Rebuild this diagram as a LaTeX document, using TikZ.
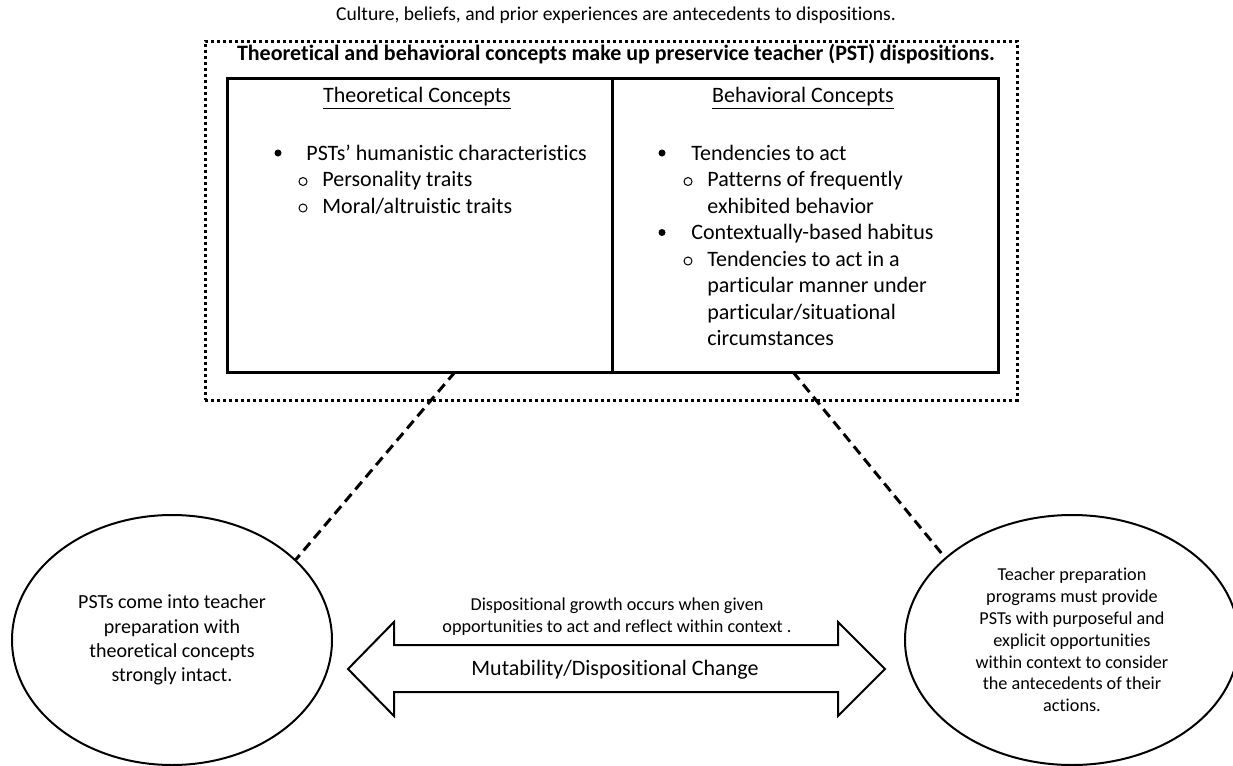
\documentclass[tikz,border=0pt]{standalone}
\usepackage{fontspec}
\setmainfont{Carlito}[Ligatures=NoCommon]
\usetikzlibrary{shapes.geometric,fit}

\tikzset{
  outerbox/.style={draw, line width=1.5pt, dash pattern=on 1.5pt off 1.5pt, inner sep=0pt},
  conceptbox/.style={draw, line width=1.5pt, inner sep=0pt},
  linkline/.style={line width=1.5pt, dash pattern=on 5pt off 3pt},
  bubble/.style={draw, ellipse, line width=1pt, inner sep=0pt, align=center},
  listline/.style={anchor=base west, inner sep=0pt, font=\fontsize{11}{13}\selectfont},
  headline/.style={anchor=base, inner sep=0pt, font=\fontsize{11}{13}\selectfont},
  bigarrow/.style={draw, line width=1pt, line join=miter},
}

\begin{document}
\begin{tikzpicture}[x=0.5pt, y=-0.5pt]
\useasboundingbox (0,0) rectangle (1233,766);

% Antecedenti
\node[anchor=base, inner sep=0pt, font=\fontsize{9.8}{12}\selectfont] (culture) at (616,20)
  {Culture, beliefs, and prior experiences are antecedents to dispositions.};

% Riquadro punteggiato e tabella
\node[outerbox, fit={(205,41) (1017,400)}] (outer) {};
\node[anchor=base, inner sep=0pt, font=\fontsize{11}{13}\selectfont\bfseries] (title) at (616,60)
  {Theoretical and behavioral concepts make up preservice teacher (PST) dispositions.};
\node[conceptbox, fit={(227,78) (612,372)}] (theo) {};
\node[conceptbox, fit={(612,78) (998,372)}] (behav) {};

% Intestazioni
\node[headline] (theohead) at (417,102) {\underline{Theoretical Concepts}};
\node[headline] (behavhead) at (803,102) {\underline{Behavioral Concepts}};

% Concetti teorici
\fill (278,153) circle (3.5);
\node[listline] (t1) at (306,160) {PSTs’ humanistic characteristics};
\draw[line width=0.5pt] (303,181.5) circle (4);
\node[listline] (t2) at (322,186.5) {Personality traits};
\draw[line width=0.5pt] (303,208) circle (4);
\node[listline] (t3) at (322,213) {Moral/altruistic traits};

% Concetti comportamentali
\fill (662,153) circle (3.5);
\node[listline] (b1) at (691,160) {Tendencies to act};
\draw[line width=0.5pt] (688,181.5) circle (4);
\node[listline] (b2) at (707,186.5) {Patterns of frequently};
\node[listline] (b3) at (707,213) {exhibited behavior};
\fill (662,232.5) circle (3.5);
\node[listline] (b4) at (691,239.5) {Contextually-based habitus};
\draw[line width=0.5pt] (688,261) circle (4);
\node[listline] (b5) at (707,266) {Tendencies to act in a};
\node[listline] (b6) at (707,292.5) {particular manner under};
\node[listline] (b7) at (707,319) {particular/situational};
\node[listline] (b8) at (707,345.5) {circumstances};

% Ellissi
\node[bubble, minimum width=160pt, minimum height=125pt, font=\fontsize{10}{12.2}\selectfont] (pstell) at (172,640)
  {PSTs come into teacher\\preparation with\\theoretical concepts\\strongly intact.};
\node[bubble, minimum width=167pt, minimum height=125pt, font=\fontsize{9.1}{10.9}\selectfont] (progell) at (1072,640)
  {Teacher preparation\\programs must provide\\PSTs with purposeful and\\explicit opportunities\\within context to consider\\the antecedents of their\\actions.};

% Collegamenti tratteggiati
\coordinate (theolink) at (455,372);
\coordinate (behavlink) at (793,372);
\draw[linkline] (theolink) -- (pstell.33);
\draw[linkline] (behavlink) -- (progell.147);

% Freccia doppia
\draw[bigarrow] (348,669) -- (394,622) -- (394,645) -- (838,645) -- (838,622) -- (885,669)
  -- (838,716) -- (838,692) -- (394,692) -- (394,716) -- cycle;
\node[anchor=base, inner sep=0pt, align=center, font=\fontsize{9.1}{11}\selectfont] (growth) at (617,632)
  {Dispositional growth occurs when given\\opportunities to act and reflect within context .};
\node[anchor=base, inner sep=0pt, font=\fontsize{11}{13}\selectfont] (change) at (615,675)
  {Mutability/Dispositional Change};
\end{tikzpicture}
\end{document}
